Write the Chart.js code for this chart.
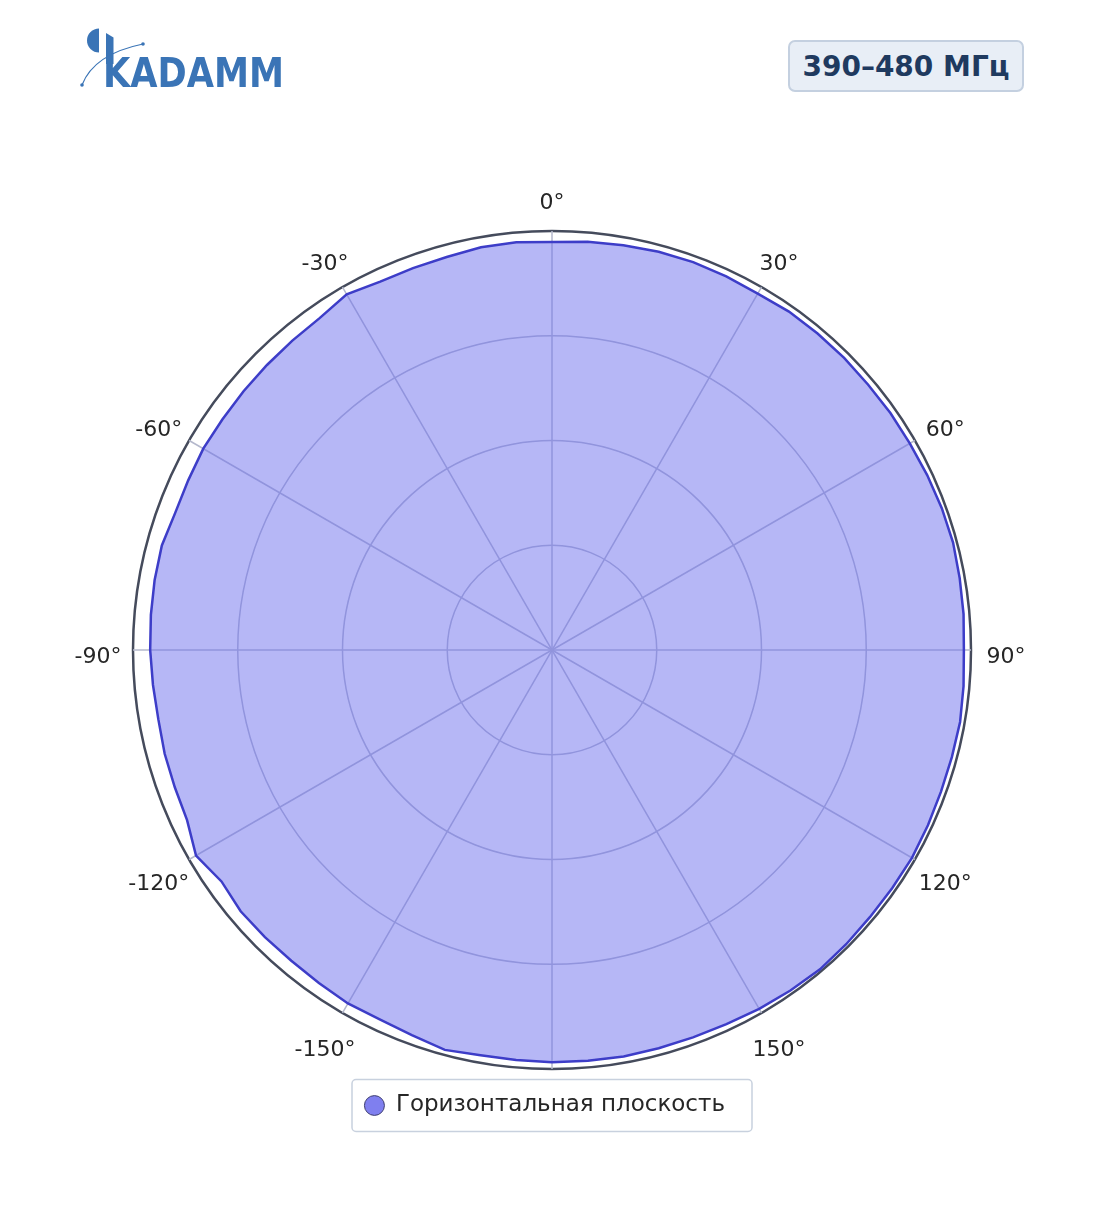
<!DOCTYPE html>
<html lang="ru">
<head>
<meta charset="utf-8">
<title>Диаграмма направленности 390–480 МГц</title>
<script src="https://cdn.jsdelivr.net/npm/chart.js@4/dist/chart.umd.min.js"></script>
<style>
  html, body { margin: 0; padding: 0; background: #fff; }
  .page { position: relative; width: 1104px; height: 1211px; overflow: hidden; font-family: "DejaVu Sans", sans-serif; }
  #polar { position: absolute; left: 0; top: 0; }
  .logo { position: absolute; left: 78px; top: 24px; }
  .band {
    position: absolute; left: 788px; top: 40px; width: 236px; height: 52px;
    box-sizing: border-box; border: 2px solid #c4d0e0; border-radius: 7px;
    background: #e8eef6; color: #1f3a5f;
    font: bold 28px "DejaVu Sans", sans-serif;
    display: flex; align-items: center; justify-content: center;
  }
</style>
</head>
<body>
<div class="page">
  <canvas id="polar" width="1104" height="1211"></canvas>

  <svg class="logo" width="212" height="70" viewBox="0 0 212 70">
    <path d="M21,4.5 A12,12 0 0 0 21,28.5 Z" fill="#3a74b6"/>
    <polygon points="28,9 35.5,13.5 35.5,40 28,40" fill="#3a74b6"/>
    <path d="M4,61 Q16,30 65,20" fill="none" stroke="#3a74b6" stroke-width="1.2"/>
    <circle cx="4" cy="61" r="1.8" fill="#3a74b6"/>
    <circle cx="65" cy="20" r="1.8" fill="#3a74b6"/>
    <text x="25" y="63" textLength="181" lengthAdjust="spacingAndGlyphs"
          font-family="DejaVu Sans" font-weight="bold" font-size="40" fill="#3a74b6">KADAMM</text>
  </svg>

  <div class="band">390–480 МГц</div>
</div>

<script>
// azimuth categories, degrees clockwise from the top
const angles = Array.from({length: 72}, (_, i) => i * 5);

// normalized gain (1 = outer ring)
const gain = [
  0.974, 0.978, 0.981, 0.984, 0.985, 0.984, 0.982, 0.986, 0.986, 0.986, 0.985, 0.986,
  0.986, 0.988, 0.990, 0.991, 0.988, 0.986, 0.983, 0.986, 0.989, 0.988, 0.988, 0.990,
  0.992, 0.991, 0.991, 0.993, 0.995, 0.992, 0.989, 0.985, 0.984, 0.984, 0.985, 0.984,
  0.984, 0.982, 0.982, 0.988, 0.978, 0.973, 0.974, 0.970, 0.968, 0.969, 0.970, 0.963,
  0.981, 0.961, 0.958, 0.957, 0.954, 0.956, 0.959, 0.961, 0.963, 0.964, 0.957, 0.958,
  0.961, 0.960, 0.961, 0.962, 0.964, 0.967, 0.980, 0.970, 0.970, 0.971, 0.976, 0.977
];

// angular tick labels (180° sits under the legend)
const tickAngles = [0, 30, 60, 90, 120, 150, 210, 240, 270, 300, 330];
const tickLabels = ['0°', '30°', '60°', '90°', '120°', '150°', '-150°', '-120°', '-90°', '-60°', '-30°'];

const seriesName = 'Горизонтальная плоскость';

// labels centred on a circle just outside the outer ring
const angleLabels = {
  id: 'angleLabels',
  afterDraw(chart) {
    const scale = chart.scales.r;
    const ctx = chart.ctx;
    const fontSize = 22;
    ctx.save();
    ctx.font = fontSize + 'px "DejaVu Sans"';
    ctx.fillStyle = '#262626';
    ctx.textAlign = 'center';
    ctx.textBaseline = 'alphabetic';
    tickAngles.forEach((a, k) => {
      const p = scale.getPointPosition(angles.indexOf(a), scale.drawingArea + 35);
      ctx.fillText(tickLabels[k], p.x, p.y + 5 + fontSize * 0.3645);
    });
    ctx.restore();
  }
};

const legendFrame = {
  id: 'legendFrame',
  afterDraw(chart) {
    const lg = chart.legend;
    const hb = lg.legendHitBoxes[0];
    if (!hb) return;
    const ctx = chart.ctx;
    const cx = (lg.left + lg.right) / 2;
    const cy = hb.top + hb.height / 2;
    ctx.save();
    ctx.strokeStyle = '#c8d1de';
    ctx.lineWidth = 1.5;
    ctx.beginPath();
    ctx.roundRect(cx - 200, cy - 26, 400, 52, 4);
    ctx.stroke();
    ctx.restore();
  }
};

const data = {
  labels: angles,
  datasets: [{
    label: seriesName,
    data: gain,
    borderColor: '#3d3dc8',
    borderWidth: 2.5,
    backgroundColor: 'rgba(110,112,238,0.5)',
    fill: 'origin',
    pointRadius: 0,
    tension: 0
  }]
};

const config = {
  type: 'radar',
  data: data,
  options: {
    responsive: false,
    animation: false,
    layout: {
      padding: {left: 133, right: 133, top: 216, bottom: 84}
    },
    plugins: {
      legend: {
        position: 'bottom',
        labels: {
          usePointStyle: true,
          pointStyleWidth: 20,
          boxHeight: 14,
          padding: 10,
          color: '#262626',
          font: {family: 'DejaVu Sans', size: 23},
          generateLabels: (chart) => [{
            text: seriesName + '  ',
            fillStyle: '#7f7fef',
            strokeStyle: '#3d3d6e',
            lineWidth: 1,
            pointStyle: 'circle',
            fontColor: '#262626',
            datasetIndex: 0
          }]
        }
      },
      tooltip: {enabled: false}
    },
    scales: {
      r: {
        min: 0,
        max: 1,
        ticks: {display: false, stepSize: 0.25},
        pointLabels: {display: false},
        grid: {
          circular: true,
          color: (c) => c.index === 4 ? '#454b5c' : '#b4b8cc',
          lineWidth: (c) => c.index === 4 ? 2.5 : 1.5
        },
        angleLines: {
          color: (c) => c.index % 6 === 0 ? '#b4b8cc' : 'rgba(0,0,0,0)',
          lineWidth: (c) => c.index % 6 === 0 ? 1.5 : 0
        }
      }
    }
  },
  plugins: [angleLabels, legendFrame]
};

const ctx = document.getElementById('polar').getContext('2d');
new Chart(ctx, config);
</script>
</body>
</html>
